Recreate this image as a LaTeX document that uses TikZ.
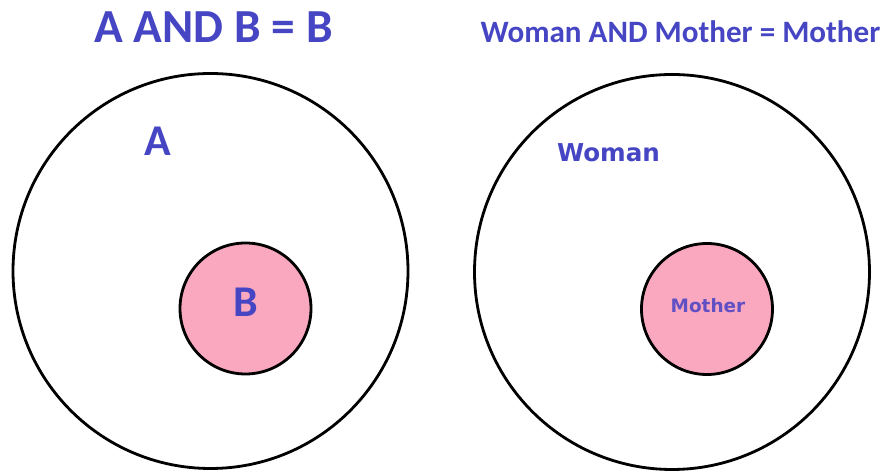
\documentclass[tikz,border=0pt]{standalone}
\usepackage{fontspec}
\setmainfont{Carlito}
\newfontfamily\verdanalike{DejaVu Sans}
\usepackage{xcolor}
\usepackage{tikz}
\definecolor{setblue}{RGB}{70,70,196}
\definecolor{subpink}{RGB}{249,168,192}
\definecolor{subtext}{RGB}{96,80,196}

\begin{document}
\begin{tikzpicture}[
    x=0.02cm, y=-0.02cm,
    outer/.style={circle, draw, line width=1.6pt, minimum size=395*0.02cm, inner sep=0pt},
    inner/.style={circle, draw, line width=1.6pt, fill=subpink, minimum size=131*0.02cm, inner sep=0pt},
    label/.style={text=setblue, font=\bfseries, inner sep=0pt, anchor=base}
]
\useasboundingbox[fill=white] (0,0) rectangle (883,475);

\node[outer] (setA) at (210.5,271) {};
\node[inner] (setB) at (245.5,308.5) {};
\node[outer] (woman) at (672,272) {};
\node[inner] (mother) at (707,309) {};

\node[label, font=\bfseries\fontsize{27}{27}\selectfont] (ruleAB) at (213.5,43) {A AND B = B};
\node[label, font=\bfseries\fontsize{17.7}{17.7}\selectfont] (ruleWM) at (680.5,43) {Woman AND Mother = Mother};
\node[label, font=\bfseries\fontsize{25}{25}\selectfont] (nameA) at (158,156) {A};
\node[label, font=\bfseries\fontsize{25}{25}\selectfont] (nameB) at (246,317) {B};
\node[label, font=\verdanalike\bfseries\fontsize{14}{14}\selectfont] (nameW) at (608.5,162) {Woman};
\node[label, text=subtext, font=\verdanalike\bfseries\fontsize{10.5}{10.5}\selectfont] (nameM) at (708,312.5) {Mother};
\end{tikzpicture}
\end{document}
